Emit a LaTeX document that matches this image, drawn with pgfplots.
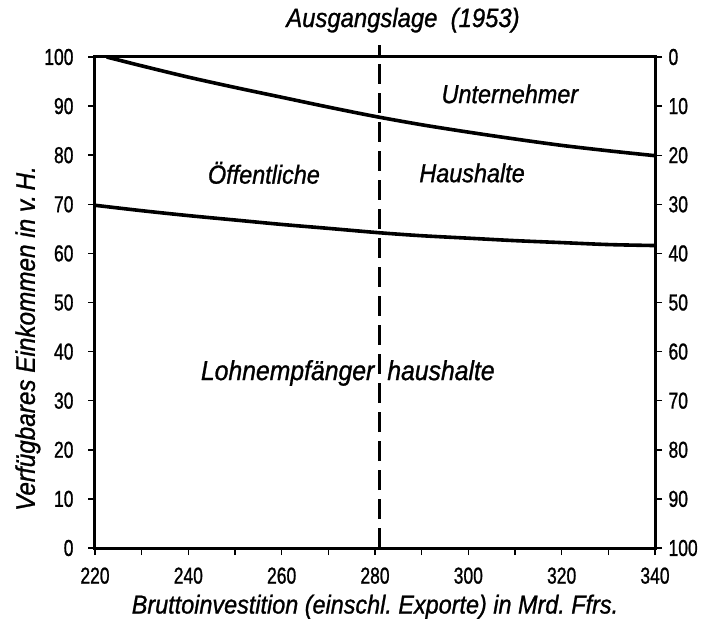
\documentclass[border=0pt]{standalone}
\usepackage{fontspec}
\setmainfont{Liberation Sans}
\newfontfamily\lab{Liberation Sans}[FakeStretch=0.9, FakeBold=1.0]
\newfontfamily\tickfont{Liberation Sans}[FakeStretch=0.76, FakeBold=1.0]
\usepackage{pgfplots}
\pgfplotsset{compat=1.18}

\pgfplotstableread{
x y
222.5 100
230 98.2
240 95.9
250 93.8
260 91.8
270 89.8
280 87.9
290 86.2
300 84.7
310 83.3
320 82.0
330 80.9
340 79.9
}\uppercurve

\pgfplotstableread{
x y
220 69.8
230 68.7
240 67.7
250 66.8
260 65.9
270 65.1
281 64.2
290 63.6
300 63.1
310 62.6
320 62.2
330 61.8
340 61.6
}\lowercurve

\begin{document}
\begin{tikzpicture}[x=1pt,y=1pt]
\path[use as bounding box] (-95,-70) rectangle (608,548);
\begin{axis}[
  at={(0,0)}, anchor=south west,
  scale only axis, width=560pt, height=491pt,
  xmin=220, xmax=340, ymin=0, ymax=100,
  xtick={220,240,...,340}, minor xtick={230,250,...,330},
  ytick={0,10,...,100},
  xtick pos=bottom, ytick pos=left,
  tick align=outside,
  major tick length=7pt, minor tick length=7pt,
  tick style={line width=1.4pt, black},
  axis line style={line width=3pt},
  /pgf/number format/assume math mode=true,
  tick label style={font=\tickfont\fontsize{23}{23}\selectfont},
  xticklabel style={yshift=-9pt},
  yticklabel style={xshift=-11pt},
  xlabel={\itshape Bruttoinvestition (einschl.\ Exporte) in Mrd.\ Ffrs.},
  xlabel style={font=\lab\fontsize{26}{26}\selectfont, yshift=-4pt},
  ylabel={\itshape Verfügbares Einkommen in v.\,H.},
  ylabel style={font=\lab\fontsize{27}{27}\selectfont, yshift=-3pt, xshift=-36pt},
  clip=false,
]
\addplot[black, line width=3.6pt, smooth] table {\uppercurve};
\addplot[black, line width=3.6pt, smooth] table {\lowercurve};
\addplot[black, line width=2.4pt, dash pattern=on 20pt off 9pt] coordinates {(281,0) (281,102.5)};
\node[font=\lab\itshape\fontsize{26}{26}\selectfont] at (axis cs:308.9,92.5) {Unternehmer};
\node[font=\lab\itshape\fontsize{26}{26}\selectfont] at (axis cs:256.2,76.4) {Öffentliche};
\node[font=\lab\itshape\fontsize{26}{26}\selectfont] at (axis cs:300.8,76.4) {Haushalte};
\node[font=\lab\itshape\fontsize{27.5}{27.5}\selectfont, anchor=base east, inner xsep=0pt] at (axis cs:279.9,34.2) {Lohnempfänger};
\node[font=\lab\itshape\fontsize{27.5}{27.5}\selectfont, anchor=base west, inner xsep=0pt] at (axis cs:282.6,34.2) {haushalte};
\node[font=\lab\itshape\fontsize{26.5}{26.5}\selectfont] at (axis cs:286,107.5) {Ausgangslage\ \ (1953)};
\end{axis}
\begin{axis}[
  at={(0,0)}, anchor=south west,
  scale only axis, width=560pt, height=491pt,
  xmin=220, xmax=340, ymin=0, ymax=100,
  y dir=reverse,
  hide x axis,
  axis y line*=right,
  ytick={0,10,...,100},
  tick align=outside,
  major tick length=7pt,
  tick style={line width=1.4pt, black},
  axis line style={line width=3pt},
  /pgf/number format/assume math mode=true,
  tick label style={font=\tickfont\fontsize{23}{23}\selectfont},
  yticklabel style={xshift=3pt},
]
\end{axis}
\end{tikzpicture}
\end{document}
